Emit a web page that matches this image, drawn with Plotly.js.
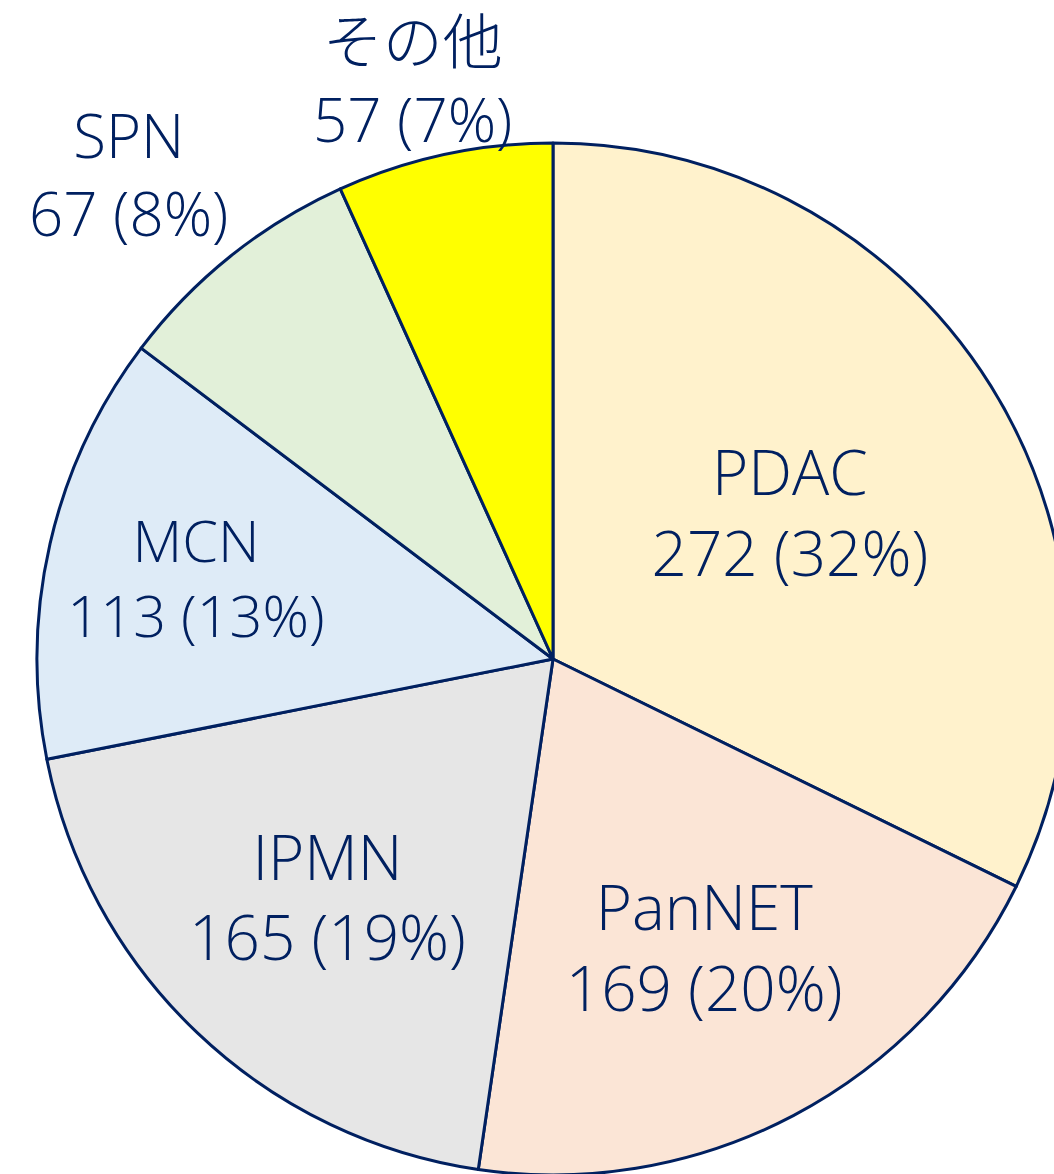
<!DOCTYPE html>
<html><head><meta charset="utf-8">
<script src="https://cdn.plot.ly/plotly-3.0.1.min.js"></script>
<style>html,body{margin:0;padding:0;overflow:hidden;background:#fff;}#chart{width:1106px;height:1176px;}</style>
</head><body><div id="chart"></div>
<script>
const labels = ['PDAC', 'PanNET', 'IPMN', 'MCN', 'SPN', 'その他'];
const values = [272, 169, 165, 113, 67, 57];
const percents = [32, 20, 19, 13, 8, 7];
const colors = ['#FFF2CC', '#FBE5D6', '#E6E6E6', '#DEEBF7', '#E2F0D9', '#FFFF00'];
const positions = ['inside', 'inside', 'inside', 'inside', 'none', 'none'];

const FONT = '"Open Sans", "Noto Sans CJK JP", sans-serif';
const labelText = i => `${labels[i]}<br>${values[i]} (${percents[i]}%)`;

const trace = {
  type: 'pie',
  labels: labels,
  values: values,
  customdata: percents,
  sort: false,
  direction: 'clockwise',
  rotation: 0,
  marker: {colors: colors, line: {color: '#002060', width: 3}},
  texttemplate: '%{label}<br>%{value} (%{customdata}%)',
  textposition: positions,
  insidetextorientation: 'horizontal',
  textfont: {family: FONT, size: 62, weight: 300, color: '#002060'},
  automargin: false,
  hoverinfo: 'none',
  showlegend: false
};

// outside labels for the two smallest slices
const W = 1032, T = 143, L = 37;
const annotPos = {4: [128, 174], 5: [412, 80]};
const annotations = Object.keys(annotPos).map(k => ({
  text: labelText(+k),
  xref: 'paper', yref: 'paper',
  x: (annotPos[k][0] - L) / W,
  y: (T + W - annotPos[k][1]) / W,
  xanchor: 'center', yanchor: 'middle',
  showarrow: false,
  font: {family: FONT, size: 60, weight: 300, color: '#002060'}
}));

const layout = {
  width: 1106, height: 1176,
  margin: {l: L, r: 37, t: T, b: 1},
  paper_bgcolor: '#ffffff',
  showlegend: false,
  annotations: annotations
};
Plotly.newPlot('chart', [trace], layout, {staticPlot: true});
</script></body></html>
